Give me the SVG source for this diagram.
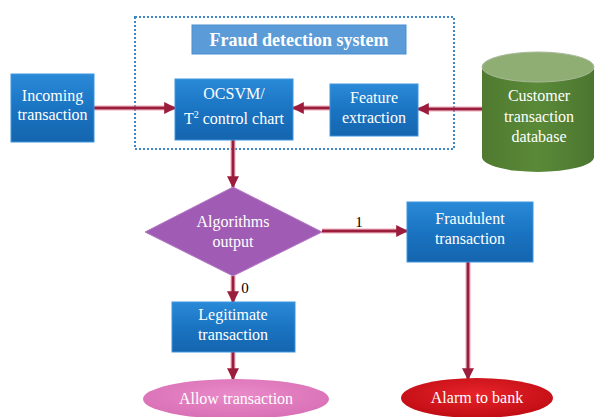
<svg xmlns="http://www.w3.org/2000/svg" width="596" height="417" viewBox="0 0 596 417">
<defs>
<linearGradient id="blue" x1="0" y1="0" x2="0" y2="1">
<stop offset="0" stop-color="#2a8ad8"/>
<stop offset="0.5" stop-color="#1a74c2"/>
<stop offset="1" stop-color="#1565ae"/>
</linearGradient>
<linearGradient id="green" x1="0" y1="0" x2="1" y2="0">
<stop offset="0" stop-color="#4f7a30"/>
<stop offset="0.5" stop-color="#5a8a38"/>
<stop offset="1" stop-color="#4c7630"/>
</linearGradient>
<radialGradient id="red" cx="0.5" cy="0.4" r="0.6">
<stop offset="0" stop-color="#e8242a"/>
<stop offset="1" stop-color="#c00c14"/>
</radialGradient>
<radialGradient id="pink" cx="0.5" cy="0.4" r="0.6">
<stop offset="0" stop-color="#e98ac8"/>
<stop offset="1" stop-color="#d970b6"/>
</radialGradient>
<marker id="ah" viewBox="0 0 10 10" refX="9" refY="5" markerWidth="4" markerHeight="4" orient="auto">
<path d="M0,0 L10,5 L0,10 z" fill="#9c1c3c"/>
</marker>
</defs>
<style>
.box{fill:url(#blue);stroke:#3d95de;stroke-width:1}
.t{font-family:"Liberation Serif","Times New Roman",serif;font-size:16px;fill:#ffffff;text-anchor:middle}
.lbl{font-family:"Liberation Serif","Times New Roman",serif;font-size:15px;fill:#000;text-anchor:middle}
.glow{fill:none;stroke:#f0a0b4;stroke-width:6;stroke-opacity:0.45}
.ln{fill:none;stroke:#9c1c3c;stroke-width:3;marker-end:url(#ah)}
</style>
<rect width="596" height="417" fill="#ffffff"/>

<g id="system-frame">
<rect x="135" y="17" width="319" height="132" fill="none" stroke="#3f86c8" stroke-width="2" stroke-dasharray="2,2"/>
<rect x="192" y="25" width="214" height="29" fill="#5a9bd8" stroke="#4d8fcf"/>
<text x="299" y="46" class="t" style="font-weight:bold;font-size:18px">Fraud detection system</text>
</g>

<g id="connectors">
<path class="glow" d="M94,108 H173"/>
<path class="ln" d="M94,108 H175"/>
<path class="glow" d="M482,109 H420"/>
<path class="ln" d="M482,109 H418"/>
<path class="glow" d="M330,108 H295"/>
<path class="ln" d="M330,108 H293"/>
<path class="glow" d="M233,140 V184"/>
<path class="ln" d="M233,140 V187"/>
<path class="glow" d="M322,231 H404"/>
<path class="ln" d="M322,231 H407"/>
<path class="glow" d="M468,262 V375"/>
<path class="ln" d="M468,262 V379"/>
<path class="glow" d="M233,276 V300"/>
<path class="ln" d="M233,276 V302"/>
<path class="glow" d="M233,352 V376"/>
<path class="ln" d="M233,352 V379"/>
<text x="359" y="227" class="lbl">1</text>
<text x="245" y="293" class="lbl">0</text>
</g>

<g id="incoming">
<rect class="box" x="11" y="74" width="83" height="68"/>
<text x="52.5" y="101" class="t">Incoming</text>
<text x="52.5" y="120" class="t">transaction</text>
</g>

<g id="ocsvm">
<rect class="box" x="175" y="79" width="118" height="61"/>
<text x="234" y="99" class="t">OCSVM/</text>
<text x="234" y="124" class="t">T<tspan font-size="10" dy="-6">2</tspan><tspan dy="6"> control chart</tspan></text>
</g>

<g id="feature">
<rect class="box" x="330" y="84" width="88" height="52"/>
<text x="374" y="103" class="t">Feature</text>
<text x="374" y="123" class="t">extraction</text>
</g>

<g id="database">
<path d="M482,67 V157 A56,15 0 0 0 594,157 V67 Z" fill="url(#green)"/>
<ellipse cx="538" cy="67" rx="56" ry="15" fill="#8fae73" stroke="#a9b99a" stroke-width="1"/>
<text x="539" y="101" class="t">Customer</text>
<text x="539" y="122" class="t">transaction</text>
<text x="539" y="142" class="t">database</text>
</g>

<g id="decision">
<polygon points="233,187 322,232 233,276 145,232" fill="#a05cb4" stroke="#b57ac6" stroke-width="1"/>
<text x="233" y="227" class="t">Algorithms</text>
<text x="233" y="247" class="t">output</text>
</g>

<g id="fraudulent">
<rect class="box" x="407" y="202" width="126" height="60"/>
<text x="470" y="224" class="t">Fraudulent</text>
<text x="470" y="244" class="t">transaction</text>
</g>

<g id="legitimate">
<rect class="box" x="172" y="302" width="123" height="50"/>
<text x="233" y="320" class="t">Legitimate</text>
<text x="233" y="340" class="t">transaction</text>
</g>

<g id="allow">
<ellipse cx="236" cy="399" rx="93" ry="20" fill="url(#pink)"/>
<text x="236" y="404" class="t">Allow transaction</text>
</g>

<g id="alarm">
<ellipse cx="477" cy="398" rx="76" ry="20" fill="url(#red)"/>
<text x="477" y="403" class="t">Alarm to bank</text>
</g>
</svg>
